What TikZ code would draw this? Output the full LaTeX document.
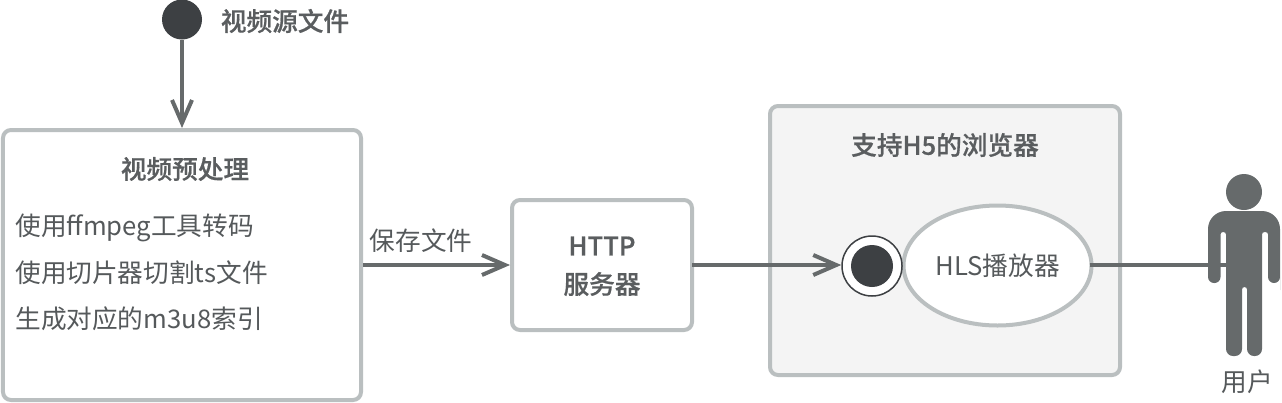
\documentclass[tikz,border=0pt]{standalone}
\usepackage{fontspec}
\setmainfont{Noto Sans CJK SC}[BoldFont={Noto Sans CJK SC Medium},BoldFeatures={FakeBold=0.6}]
\usetikzlibrary{arrows.meta,shapes.geometric}
\definecolor{edgegray}{HTML}{BABFC0}
\definecolor{flowgray}{HTML}{666A6B}
\definecolor{dotdark}{HTML}{3D4043}
\definecolor{textgray}{HTML}{55595B}
\definecolor{panelgray}{HTML}{F4F4F4}
\begin{document}
\begin{tikzpicture}[
        box/.style={rectangle, draw=edgegray, line width=0.08cm, rounded corners=0.16cm, fill=white},
        flow/.style={-{Straight Barb[length=0.46cm, width=0.4cm]}, flowgray, line width=0.08cm},
        dot/.style={circle, fill=dotdark, inner sep=0pt},
        big/.style={text=textgray, font=\fontsize{14.6pt}{17pt}\selectfont, inner sep=0pt},
        head/.style={text=dotdark!85!white, font=\fontsize{14.6pt}{17pt}\selectfont\bfseries, inner sep=0pt}
        ]
      \useasboundingbox (0,0) rectangle (25.64,8.04);
      \node[dot, minimum size=0.8cm] (source) at (3.64,7.65) {};
      \node[head] (sourcetext) at (5.7,7.62) {视频源文件};
      \node[box, minimum width=7.16cm, minimum height=5.4cm] (prep) at (3.64,2.74) {};
      \node[head] (preptitle) at (3.7,4.66) {视频预处理};
      \node[big, anchor=west] (step1) at (0.3,3.48) {使用ffmpeg工具转码};
      \node[big, anchor=west] (step2) at (0.3,2.58) {使用切片器切割ts文件};
      \node[big, anchor=west] (step3) at (0.3,1.66) {生成对应的m3u8索引};
      \node[box, minimum width=3.6cm, minimum height=2.6cm] (http) at (12.04,2.74) {};
      \node[head] (httptext) at (12.04,3.12) {HTTP};
      \node[head] (httpcn) at (12.04,2.36) {服务器};
      \node[box, fill=panelgray, minimum width=7cm, minimum height=5.38cm] (browser) at (18.9,3.23) {};
      \node[head] (browsertitle) at (18.9,5.14) {支持H5的浏览器};
      \node[ellipse, draw=edgegray, line width=0.08cm, fill=white, minimum width=3.76cm, minimum height=2.4cm, inner sep=0pt] (player) at (19.95,2.73) {};
      \node[big] (playertext) at (19.95,2.72) {HLS播放器};
      \node[circle, draw=dotdark, line width=0.03cm, fill=white, minimum size=1.2cm, inner sep=0pt] (entry) at (17.44,2.72) {};
      \node[dot, minimum size=0.84cm] (entrydot) at (17.44,2.72) {};
      \node[circle, fill=flowgray, minimum size=0.72cm, inner sep=0pt] (userhead) at (24.88,4.2) {};
      \coordinate (user) at (24.52,2.74);
      \fill[flowgray] (24.16,2.6) [rounded corners=0.36cm] -- (24.16,3.82) -- (25.6,3.82) -- (25.6,2.6)
        [rounded corners=0.12cm] -- (25.6,2.38) -- (25.36,2.38)
        [rounded corners=0.05cm] -- (25.36,3.4) -- (25.24,3.4)
        [sharp corners] -- (25.24,2.6)
        [rounded corners=0.14cm] -- (25.24,0.92) -- (24.94,0.92)
        [rounded corners=0.05cm] -- (24.94,2.3) -- (24.84,2.3)
        [rounded corners=0.14cm] -- (24.84,0.92) -- (24.52,0.92)
        [sharp corners] -- (24.52,2.6)
        [rounded corners=0.05cm] -- (24.52,3.4) -- (24.41,3.4)
        [rounded corners=0.12cm] -- (24.41,2.38) -- (24.16,2.38)
        [sharp corners] -- cycle;
      \node[big] (usertext) at (24.94,0.4) {用户};

      \draw[flow] (source) -- (prep);
      \draw[flow] (prep.east |- 0,2.74) -- (http.west |- 0,2.74);
      \node[big] (savetext) at (8.42,3.22) {保存文件};
      \draw[flow, shorten <=-0.04cm] (http.east |- 0,2.74) -- (entry.west |- 0,2.74);
      \draw[flowgray, line width=0.08cm, shorten <=-0.08cm] (player.east |- 0,2.74) -- (user);
    \end{tikzpicture}
\end{document}
